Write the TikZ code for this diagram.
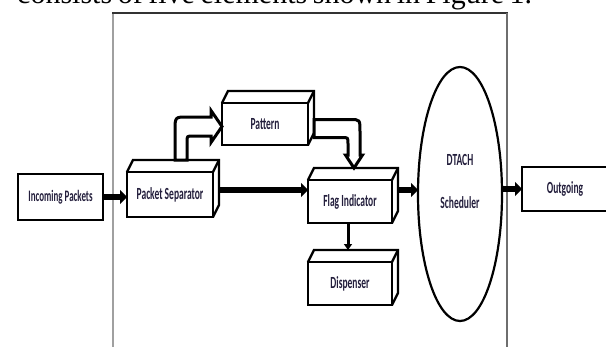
\documentclass[tikz,border=0pt]{standalone}
\usepackage{fontspec}
\setmainfont{Liberation Serif}
\newfontfamily\lab[FakeStretch=0.56]{Carlito}
\usetikzlibrary{arrows.meta,shapes.geometric,calc}
\definecolor{txt}{RGB}{35,30,60}
\definecolor{frameL}{RGB}{160,160,160}
\definecolor{frameR}{RGB}{110,110,110}
\tikzset{
  box/.style={draw, line width=2.8pt, rectangle, inner sep=0pt, outer sep=0pt, fill=white,
    font=\lab\bfseries\fontsize{17}{17}\selectfont, text=txt},
  faceline/.style={line width=2.4pt, line join=miter},
  tharrow/.style={line width=6.5pt, -{Triangle[width=14pt,length=7pt]}},
  midarrow/.style={line width=3pt, -{Triangle[width=8pt,length=6pt]}},
  holarrow/.style={fill=white, draw=black, line width=3pt, line join=miter},
  lbl/.style={font=\lab\bfseries\fontsize{17}{17}\selectfont, text=txt, inner sep=0pt}
}
\newcommand\cubefaces[1]{%
  \draw[faceline] (#1.north west) -- ([shift={(6pt,12pt)}]#1.north west)
    -- ([shift={(6pt,12pt)}]#1.north east) -- ([shift={(6pt,12pt)}]#1.south east)
    -- (#1.south east);
  \draw[faceline] (#1.north east) -- ([shift={(6pt,12pt)}]#1.north east);
}
\begin{document}
\begin{tikzpicture}[x=1pt,y=-1pt]
\useasboundingbox (0,0) rectangle (606,346);
% caption fragment
\node[anchor=base west, inner sep=0pt, font=\fontsize{30}{30}\selectfont] (cap) at (17,3)
  {\makebox[515pt][s]{consists of five elements shown in Figure 1.}};
% frame
\draw[frameL, line width=2pt] (113,352) -- (113,13);
\draw[black!80, line width=1.5pt] (112,13) -- (507.5,13);
\draw[frameR, line width=1.2pt] (507,13) -- (507,352);
% nodes
\node[box, minimum width=85pt, minimum height=46pt, font=\lab\bfseries\fontsize{16}{16}\selectfont] (inc) at (60.5,197) {Incoming Packets};
\node[box, minimum width=86pt, minimum height=45pt] (ps) at (170,194.5) {Packet Separator};
\node[box, minimum width=86pt, minimum height=42pt] (pat) at (265,124) {Pattern};
\node[box, minimum width=84pt, minimum height=43pt] (flag) at (350,201.5) {Flag Indicator};
\node[box, minimum width=84pt, minimum height=43pt] (disp) at (350,283.5) {Dispenser};
\node[box, minimum width=100pt, minimum height=44pt] (out) at (572,189) {\hspace*{-14pt}Outgoing};
\node[draw, ellipse, line width=2.2pt, minimum width=84pt, minimum height=254pt, inner sep=0pt, outer sep=0pt] (ell) at (460,194) {};
\node[lbl] (dtach) at (460,160) {DTACH};
\node[lbl] (sched) at (460,203) {Scheduler};
\cubefaces{ps}
\cubefaces{pat}
\cubefaces{flag}
\cubefaces{disp}
% thick arrows
\draw[tharrow] (inc.east) -- (ps.west |- inc.east);
\coordinate (psr) at ([shift={(6pt,4.5pt)}]ps.east);
\draw[tharrow] (psr) -- (flag.west |- psr);
\coordinate (flr) at ([shift={(6pt,11.5pt)}]flag.east);
\draw[tharrow] (flr) -- (ell.west |- flr);
\draw[tharrow] (ell.east |- out.west) -- (out.west);
\draw[midarrow] ([xshift=-2pt]flag.south) -- ([shift={(-2pt,12pt)}]disp.north);
% hollow arrow 1: Packet Separator -> Pattern
\coordinate (A) at ([shift={(11pt,12pt)}]ps.north);
\coordinate (T) at ([yshift=-2.5pt]pat.west);
\coordinate (C) at (A |- T);
\draw[holarrow] ($(A)+(-6,0)$) -- ($(C)+(-6,4.5)$) .. controls ($(C)+(-6,-9.5)$) .. ($(C)+(6,-9.5)$)
  -- ($(T)+(-11,-9.5)$) -- ($(T)+(-11,-16)$) -- (T) -- ($(T)+(-11,16)$) -- ($(T)+(-11,9.5)$)
  -- ($(C)+(12,9.5)$) .. controls ($(C)+(6,9.5)$) .. ($(C)+(6,15.5)$) -- ($(A)+(6,0)$) -- cycle;
% hollow arrow 2: Pattern -> Flag Indicator
\coordinate (S) at ([shift={(6pt,-4.5pt)}]pat.east);
\coordinate (ftop) at ([yshift=12pt]flag.north);
\coordinate (C2) at ([xshift=4pt]ftop |- S);
\coordinate (T2) at (C2 |- ftop);
\draw[holarrow] ($(S)+(0,-9)$) -- ($(C2)+(-4,-9)$) .. controls ($(C2)+(6,-9)$) .. ($(C2)+(6,3)$)
  -- ($(T2)+(6,-13)$) -- ($(T2)+(8.5,-13)$) -- (T2) -- ($(T2)+(-8.5,-13)$) -- ($(T2)+(-6,-13)$)
  -- ($(C2)+(-6,15)$) .. controls ($(C2)+(-6,9)$) .. ($(C2)+(-12,9)$) -- ($(S)+(0,9)$) -- cycle;
\end{tikzpicture}
\end{document}
